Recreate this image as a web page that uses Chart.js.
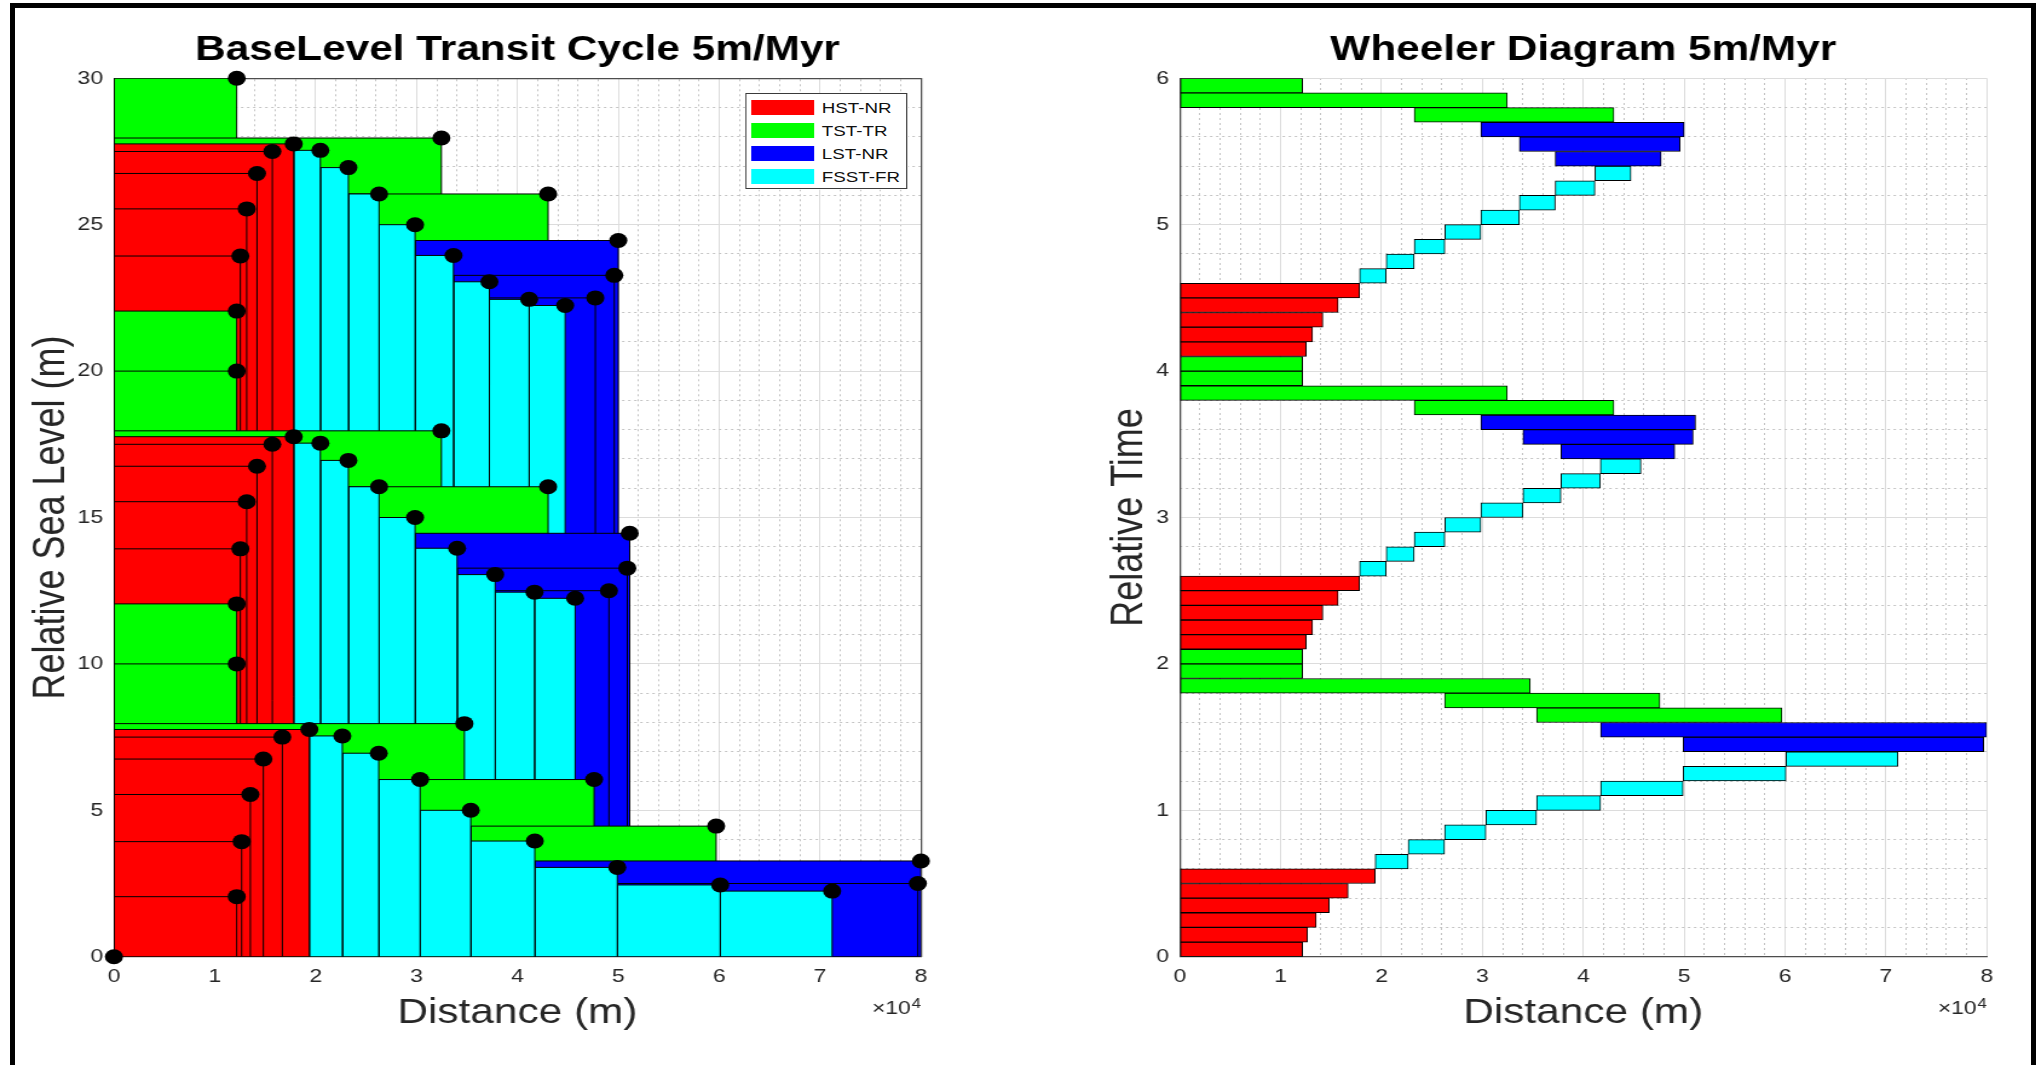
<!DOCTYPE html>
<html>
<head>
<meta charset="utf-8">
<script src="https://cdn.jsdelivr.net/npm/chart.js@4.4.1/dist/chart.umd.min.js"></script>
<style>
  html, body { margin: 0; padding: 0; background: #fff; }
  body { width: 2041px; height: 1065px; overflow: hidden; position: relative; }
  #frame { position: absolute; left: 10px; top: 3px; width: 2026px; height: 1080px;
           border: 5px solid #000; box-sizing: border-box; }
  /* the source figure is stretched horizontally, so the whole drawing is too */
  #stage { position: absolute; left: 0; top: 0; width: 1687px; height: 1065px;
           transform: scaleX(1.2098); transform-origin: 0 0; }
  #left { position: absolute; left: 0; top: 0; }
  #right { position: absolute; left: 843px; top: 0; }
  #legend { position: absolute; background: #fff; border: 1px solid #3a3a3a; box-sizing: border-box;
            width: 133.5px; height: 95.7px; padding: 2px 0 0 4px;
            font-family: "Liberation Sans", Arial, sans-serif; font-size: 15.5px; color: #111;
            white-space: nowrap; }
  #legend .row { display: flex; align-items: center; height: 23px; }
  #legend .sw { width: 52px; height: 15px; margin-right: 6px; flex: none; }
</style>
</head>
<body>
<div id="frame"></div>
<div id="stage">
  <canvas id="left" width="843" height="1065" style="width:843px;height:1065px"></canvas>
  <canvas id="right" width="844" height="1065" style="width:844px;height:1065px"></canvas>
  <div id="legend"></div>
</div>
<script>
const phaseNames = ['HST', 'TST', 'LST', 'FSST'];
const phaseLabels = ['HST-NR', 'TST-TR', 'LST-NR', 'FSST-FR'];
const phaseColors = ['#ff0000', '#00ff00', '#0000ff', '#00ffff'];

// end time of every 0.1 Myr step
const stepTime = [
  0.1, 0.2, 0.3, 0.4, 0.5, 0.6, 0.7, 0.8, 0.9, 1.0,
  1.1, 1.2, 1.3, 1.4, 1.5, 1.6, 1.7, 1.8, 1.9, 2.0,
  2.1, 2.2, 2.3, 2.4, 2.5, 2.6, 2.7, 2.8, 2.9, 3.0,
  3.1, 3.2, 3.3, 3.4, 3.5, 3.6, 3.7, 3.8, 3.9, 4.0,
  4.1, 4.2, 4.3, 4.4, 4.5, 4.6, 4.7, 4.8, 4.9, 5.0,
  5.1, 5.2, 5.3, 5.4, 5.5, 5.6, 5.7, 5.8, 5.9, 6.0
];

const stepPhase = [
  'HST','HST','HST','HST','HST','HST',
  'FSST','FSST','FSST','FSST','FSST','FSST','FSST','FSST',
  'LST','LST',
  'TST','TST','TST','TST','TST',
  'HST','HST','HST','HST','HST',
  'FSST','FSST','FSST','FSST','FSST','FSST','FSST','FSST',
  'LST','LST','LST',
  'TST','TST','TST','TST',
  'HST','HST','HST','HST','HST',
  'FSST','FSST','FSST','FSST','FSST','FSST','FSST','FSST',
  'LST','LST','LST',
  'TST','TST','TST'
];

// landward / basinward edge of each step's deposit (m)
const shoreStart = [
  0, 0, 0, 0, 0, 0,
  19370, 22640, 26250, 30350, 35370, 41720, 49900, 60100,
  49900, 41720,
  35370, 26250, 0, 0, 0,
  0, 0, 0, 0, 0,
  17820, 20460, 23240, 26280, 29850, 34020, 37790, 41690,
  37790, 34020, 29850,
  23240, 0, 0, 0,
  0, 0, 0, 0, 0,
  17820, 20460, 23240, 26280, 29850, 33660, 37220, 41160,
  37220, 33660, 29850,
  23240, 0, 0
];
const shoreEnd = [
  12170, 12660, 13520, 14810, 16690, 19370,
  22640, 26250, 30350, 35370, 41720, 49900, 60100, 71200,
  79700, 80000,
  59700, 47600, 34740, 12170, 12170,
  12530, 13160, 14180, 15700, 17820,
  20460, 23240, 26280, 29850, 34020, 37790, 41690, 45720,
  49070, 50890, 51130,
  43040, 32460, 12170, 12170,
  12530, 13160, 14180, 15700, 17820,
  20460, 23240, 26280, 29850, 33660, 37220, 41160, 44730,
  47720, 49600, 50000,
  43040, 32460, 12170
];

// relative sea level at the end of each step (m)
const seaLevel = [
  2.05, 3.93, 5.54, 6.75, 7.50, 7.76,
  7.54, 6.95, 6.05, 5.00, 3.95, 3.05, 2.45, 2.24,
  2.50, 3.27,
  4.46, 6.05, 7.96, 10.00, 12.05,
  13.93, 15.54, 16.75, 17.50, 17.76,
  17.54, 16.95, 16.05, 15.00, 13.95, 13.05, 12.45, 12.24,
  12.50, 13.27, 14.46,
  16.05, 17.96, 20.00, 22.05,
  23.93, 25.54, 26.75, 27.50, 27.76,
  27.54, 26.95, 26.05, 25.00, 23.95, 23.05, 22.45, 22.24,
  22.50, 23.27, 24.46,
  26.05, 27.96, 30.00
];
const startShore = 0;
const startSeaLevel = 0;

const distanceFactor = 10000;
const distanceExponent = '4';

const FONT = '"Liberation Sans", Arial, sans-serif';
const TXT = '#262626';
const colorOf = p => phaseColors[phaseNames.indexOf(p)];

const isMajor = (v, step) => Math.abs(v / step - Math.round(v / step)) < 1e-6;

function majorAxis(pos, min, max, step, title, fitSize, extra) {
  const horiz = pos === 'bottom';
  return Object.assign({
    type: 'linear', position: pos, min: min, max: max, offset: false,
    ticks: { stepSize: step, autoSkip: false, maxRotation: 0, padding: 9,
             color: TXT, font: { family: FONT, size: 19 } },
    grid: { color: '#dcdcdc', lineWidth: 1, drawTicks: false, offset: false },
    border: { color: '#4d4d4d', width: 1.3 },
    title: { display: true, text: title, color: TXT,
             font: { family: FONT, size: horiz ? 35 : 36 },
             padding: horiz ? { top: 0, bottom: 31 } : { top: 21, bottom: 0 } },
    afterFit: s => { if (horiz) s.height = fitSize; else s.width = fitSize; }
  }, extra || {});
}

function minorAxis(pos, min, max, step, majorStep, showBorder) {
  return {
    type: 'linear', position: pos, min: min, max: max, offset: false,
    ticks: { stepSize: step, display: false },
    grid: { drawTicks: false, offset: false, lineWidth: 1,
            color: c => isMajor(c.tick.value, majorStep) ? 'rgba(0,0,0,0)' : '#c4c4c4' },
    border: { display: showBorder, color: '#4d4d4d', width: 1.3, dash: [2, 3] }
  };
}

const distanceTicks = { stepSize: distanceFactor, autoSkip: false, maxRotation: 0, padding: 9,
                        color: TXT, font: { family: FONT, size: 19 },
                        callback: v => v / distanceFactor };

const exponentLabel = {
  id: 'exponentLabel',
  afterDraw(chart) {
    const { ctx, chartArea } = chart;
    ctx.save();
    ctx.fillStyle = TXT;
    ctx.textAlign = 'right';
    ctx.textBaseline = 'alphabetic';
    ctx.font = '14px ' + FONT;
    const w = ctx.measureText(distanceExponent).width;
    ctx.fillText(distanceExponent, chartArea.right, chartArea.bottom + 51);
    ctx.font = '19px ' + FONT;
    ctx.fillText('\u00d710', chartArea.right - w - 0.5, chartArea.bottom + 57.5);
    ctx.restore();
  }
};

function titleOpts(text) {
  return { display: true, text: text, color: '#000', fullSize: false,
           font: { family: FONT, size: 35, weight: 'bold' },
           padding: { top: 29.5, bottom: 6.8 } };
}

// ---------- left: base level transit cycle ----------
const rectSets = stepPhase.map((p, i) => ({
  data: [
    { x: shoreStart[i], y: 0 }, { x: shoreEnd[i], y: 0 },
    { x: shoreEnd[i], y: seaLevel[i] }, { x: shoreStart[i], y: seaLevel[i] },
    { x: shoreStart[i], y: 0 }
  ],
  fill: 'shape',
  backgroundColor: colorOf(p),
  borderColor: '#000',
  borderWidth: 1,
  borderJoinStyle: 'miter',
  pointRadius: 0,
  tension: 0
}));

const shoreDots = {
  data: [{ x: startShore, y: startSeaLevel }].concat(
    shoreEnd.map((x, i) => ({ x: x, y: seaLevel[i] }))),
  showLine: false,
  pointRadius: 7.5,
  pointBackgroundColor: '#000',
  pointBorderWidth: 0,
  clip: false
};

const leftChart = new Chart(document.getElementById('left'), {
  type: 'line',
  data: { datasets: [shoreDots].concat(rectSets) },
  options: {
    responsive: false, animation: false, events: [],
    layout: { padding: { left: 0, right: 81.8, top: 0, bottom: 0 } },
    plugins: { legend: { display: false }, tooltip: { enabled: false },
               title: titleOpts('BaseLevel Transit Cycle 5m/Myr') },
    scales: {
      x: majorAxis('bottom', 0, 80000, distanceFactor, 'Distance (m)', 108.3, { ticks: distanceTicks }),
      xMinor: minorAxis('top', 0, 80000, 2000, distanceFactor, true),
      y: majorAxis('left', 0, 30, 5, 'Relative Sea Level (m)', 94.2),
      yMinor: minorAxis('right', 0, 30, 1, 5, true)
    }
  },
  plugins: [exponentLabel]
});

// ---------- right: wheeler diagram ----------
const wheelerBars = {
  data: stepTime.map((t, i) => ({ y: t - 0.05, x: [shoreStart[i], shoreEnd[i]] })),
  backgroundColor: stepPhase.map(colorOf),
  borderColor: '#000',
  borderWidth: 1,
  borderSkipped: false,
  barPercentage: 1,
  categoryPercentage: 1
};

const rightChart = new Chart(document.getElementById('right'), {
  type: 'bar',
  data: { datasets: [wheelerBars] },
  options: {
    indexAxis: 'y',
    responsive: false, animation: false, events: [],
    layout: { padding: { left: 48, right: 44.8, top: 0, bottom: 0 } },
    plugins: { legend: { display: false }, tooltip: { enabled: false },
               title: titleOpts('Wheeler Diagram 5m/Myr') },
    scales: {
      x: majorAxis('bottom', 0, 80000, distanceFactor, 'Distance (m)', 108.3, { ticks: distanceTicks }),
      xMinor: minorAxis('top', 0, 80000, 2000, distanceFactor, false),
      y: majorAxis('left', 0, 6, 1, 'Relative Time', 84.2),
      yMinor: minorAxis('right', 0, 6, 0.2, 1, false)
    }
  },
  plugins: [exponentLabel]
});

// ---------- legend (inside the left plot, top right) ----------
const legend = document.getElementById('legend');
phaseLabels.forEach((lab, i) => {
  const row = document.createElement('div');
  row.className = 'row';
  const sw = document.createElement('div');
  sw.className = 'sw';
  sw.style.background = phaseColors[i];
  const tx = document.createElement('span');
  tx.textContent = lab;
  row.appendChild(sw);
  row.appendChild(tx);
  legend.appendChild(row);
});
const area = leftChart.chartArea;
legend.style.left = (area.right - 11.4 - 133.5) + 'px';
legend.style.top = (area.top + 15) + 'px';
</script>
</body>
</html>
